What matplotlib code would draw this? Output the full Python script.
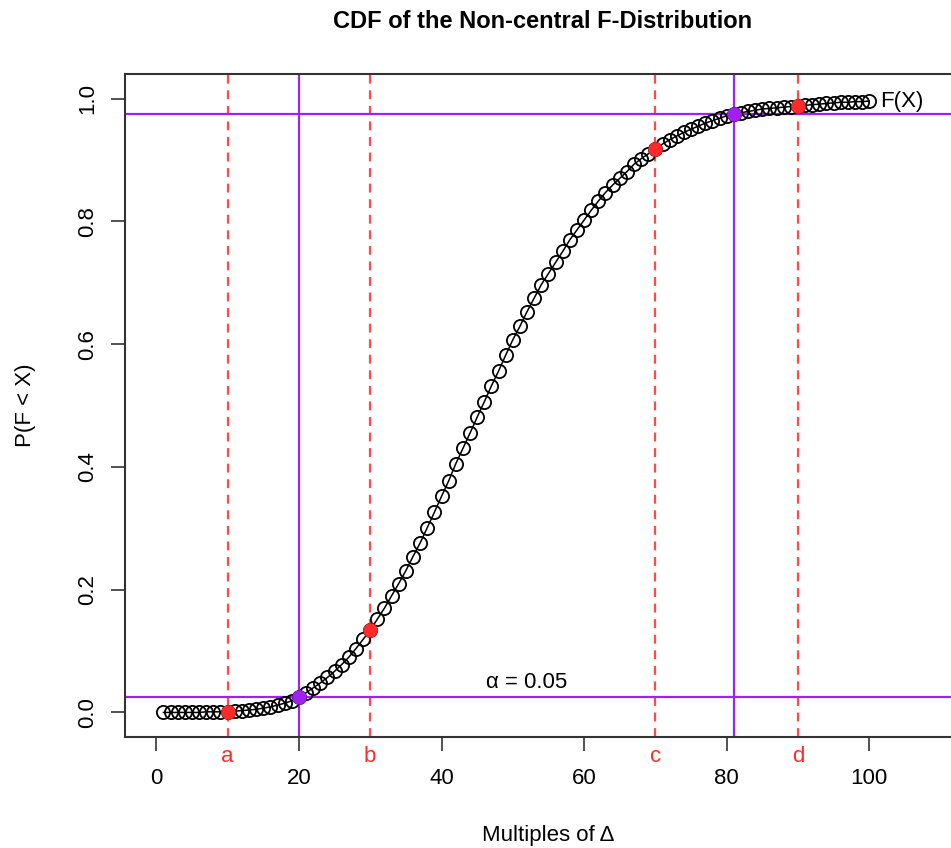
import numpy as np
import matplotlib.pyplot as plt

plt.rcParams['font.family'] = ['Liberation Sans', 'DejaVu Sans']

# multiples of delta and the cumulative probability at each one
mult = np.arange(1, 101)
cdf = [0.000, 0.000, 0.000, 0.000, 0.000, 0.000, 0.001, 0.001, 0.001, 0.001,
       0.002, 0.003, 0.004, 0.005, 0.007, 0.009, 0.012, 0.015, 0.019, 0.025,
       0.032, 0.040, 0.048, 0.057, 0.067, 0.078, 0.090, 0.104, 0.119, 0.134,
       0.152, 0.170, 0.190, 0.210, 0.231, 0.254, 0.276, 0.301, 0.326, 0.352,
       0.377, 0.405, 0.430, 0.455, 0.481, 0.506, 0.532, 0.556, 0.582, 0.607,
       0.629, 0.653, 0.675, 0.697, 0.715, 0.733, 0.751, 0.770, 0.786, 0.802,
       0.818, 0.833, 0.847, 0.859, 0.870, 0.881, 0.893, 0.902, 0.910, 0.918,
       0.926, 0.933, 0.939, 0.945, 0.950, 0.955, 0.960, 0.964, 0.968, 0.972,
       0.975, 0.977, 0.979, 0.981, 0.983, 0.984, 0.985, 0.986, 0.987, 0.988,
       0.989, 0.990, 0.991, 0.992, 0.993, 0.994, 0.994, 0.995, 0.995, 0.996]

# marked points a-d and the two-sided alpha cut-offs
marks = [10, 30, 70, 90]
mark_labels = ['a', 'b', 'c', 'd']
alpha = 0.05
cut_x = [20, 81]
cut_y = [alpha / 2, 1 - alpha / 2]

purple = '#A020F0'
red = '#FF2A2A'

fig = plt.figure(figsize=(9.51, 8.48), dpi=100)
ax = fig.add_axes([0.1314, 0.1309, 0.8906, 0.7818])

for xv in marks:
    ax.axvline(xv, color=red, ls=(0, (4, 3)), lw=1.6, alpha=0.85, zorder=1)
for xv in cut_x:
    ax.axvline(xv, color=purple, lw=1.6, zorder=1)
for yv in cut_y:
    ax.axhline(yv, color=purple, lw=1.6, zorder=1)

ax.plot(mult, cdf, '-o', color='black', mfc='none', ms=9.5, mew=1.3, lw=1.1, zorder=2)

cdf_arr = np.array(cdf)
ax.plot(marks, cdf_arr[np.array(marks) - 1], 'o', color=red, ms=9.5, zorder=3)
ax.plot(cut_x, cdf_arr[np.array(cut_x) - 1], 'o', color=purple, ms=9.5, zorder=3)

ax.text(101.5, cdf[-1], 'F(X)', fontsize=16, va='center', ha='left')
ax.text(52, 0.048, 'α = 0.05', fontsize=16, va='center', ha='center')

ax.set_xlim(-4.4, 114.4)
ax.set_ylim(-0.04, 1.04)
ax.set_xticks([0, 20, 40, 60, 80, 100])
ax.set_yticks([0.0, 0.2, 0.4, 0.6, 0.8, 1.0])
ax.set_yticklabels(['0.0', '0.2', '0.4', '0.6', '0.8', '1.0'], rotation=90, va='center')
ax.tick_params(direction='out', length=10, width=1.2, labelsize=16, color='#333333', pad=9)
ax.tick_params(axis='x', pad=12)
for s in ax.spines.values():
    s.set_color('#333333')
    s.set_linewidth(1.5)

# letters under the axis for the marked points
for xv, lab in zip(marks, mark_labels):
    ax.text(xv, -0.055, lab, color=red, fontsize=16, ha='center', va='top')

ax.set_xlabel('Multiples of Δ', fontsize=16, labelpad=26)
ax.set_ylabel('P(F < X)', fontsize=16, labelpad=30)
fig.text(0.57, 0.975, 'CDF of the Non-central F-Distribution', fontsize=17,
         fontweight='bold', ha='center', va='center')

fig.savefig('out.png', dpi=100)
